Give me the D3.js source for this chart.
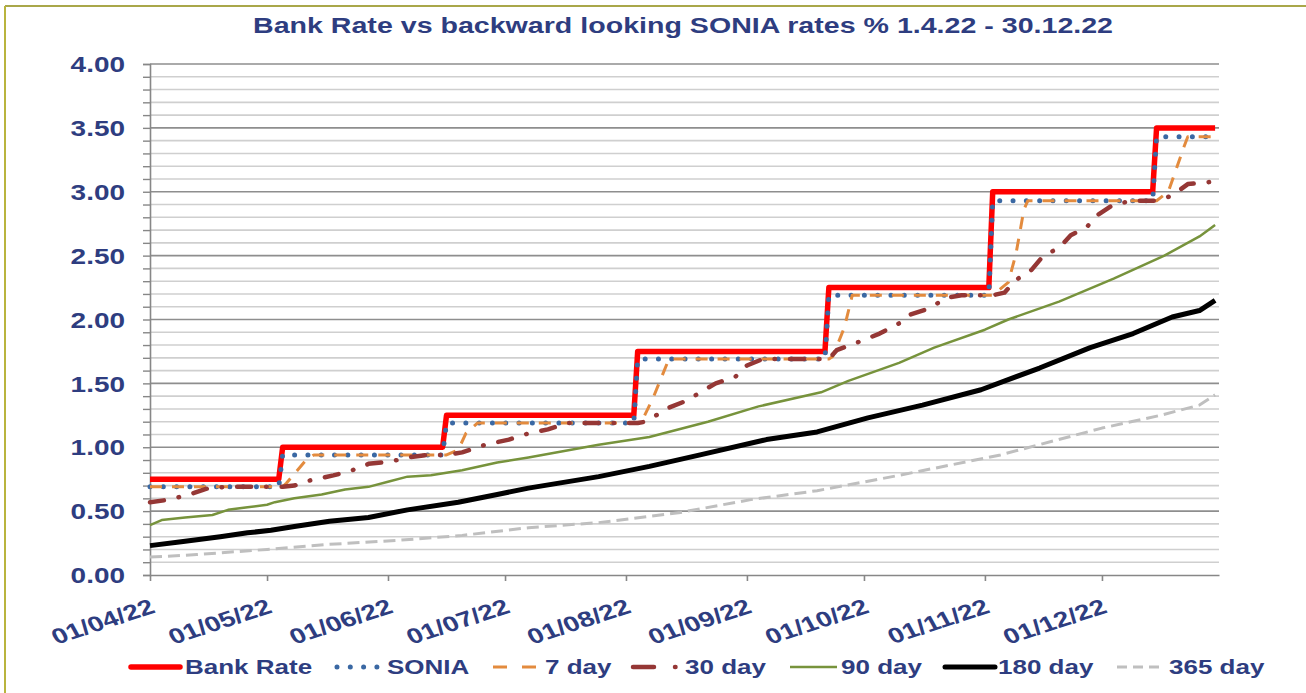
<!DOCTYPE html>
<html><head><meta charset="utf-8">
<script src="https://cdn.jsdelivr.net/npm/d3@7"></script>
<style>
body{margin:0;background:#fff}
svg{display:block}
text{font-family:"Liberation Sans",Arial,sans-serif;font-weight:bold;fill:#2E3D80}
</style>
</head><body>
<svg id="chart" width="1306" height="693"></svg>
<script>
// ---------- DATA ----------
const chartTitle = "Bank Rate vs backward looking SONIA rates % 1.4.22 - 30.12.22";
const xTickDates = ["2022-04-01","2022-05-01","2022-06-01","2022-07-01","2022-08-01","2022-09-01","2022-10-01","2022-11-01","2022-12-01"];
const yMajorTicks = [0,0.5,1,1.5,2,2.5,3,3.5,4];
const seriesNames = ["Bank Rate","SONIA","7 day","30 day","90 day","180 day","365 day"];

const bankRate = [["2022-04-01",0.75],["2022-05-04",0.75],["2022-05-05",1.00],["2022-06-15",1.00],["2022-06-16",1.25],["2022-08-03",1.25],["2022-08-04",1.75],["2022-09-21",1.75],["2022-09-22",2.25],["2022-11-02",2.25],["2022-11-03",3.00],["2022-12-14",3.00],["2022-12-15",3.50],["2022-12-30",3.50]];

const sonia = [["2022-04-01",0.69],["2022-05-04",0.69],["2022-05-05",0.94],["2022-06-15",0.94],["2022-06-16",1.19],["2022-08-03",1.19],["2022-08-04",1.69],["2022-09-21",1.69],["2022-09-22",2.19],["2022-11-02",2.19],["2022-11-03",2.93],["2022-12-14",2.93],["2022-12-15",3.43],["2022-12-30",3.43]];

const sevenDay = [["2022-04-01",0.69],["2022-05-05",0.69],["2022-05-06",0.72],["2022-05-11",0.90],["2022-05-13",0.94],["2022-06-16",0.94],["2022-06-19",0.98],["2022-06-21",1.11],["2022-06-24",1.19],["2022-08-04",1.19],["2022-08-05",1.20],["2022-08-08",1.39],["2022-08-12",1.69],["2022-09-22",1.69],["2022-09-23",1.71],["2022-09-26",1.94],["2022-09-28",2.19],["2022-11-03",2.19],["2022-11-07",2.29],["2022-11-09",2.52],["2022-11-11",2.86],["2022-11-12",2.93],["2022-12-15",2.93],["2022-12-18",3.00],["2022-12-22",3.35],["2022-12-23",3.43],["2022-12-30",3.43]];

const thirtyDay = [["2022-04-01",0.57],["2022-04-06",0.59],["2022-04-11",0.63],["2022-04-16",0.68],["2022-04-21",0.69],["2022-05-05",0.69],["2022-05-08",0.70],["2022-05-12",0.74],["2022-05-18",0.78],["2022-05-22",0.81],["2022-05-27",0.87],["2022-06-02",0.89],["2022-06-06",0.92],["2022-06-11",0.94],["2022-06-16",0.94],["2022-06-20",0.96],["2022-06-26",1.02],["2022-07-02",1.06],["2022-07-06",1.10],["2022-07-12",1.14],["2022-07-17",1.19],["2022-08-04",1.19],["2022-08-06",1.20],["2022-08-12",1.31],["2022-08-17",1.37],["2022-08-20",1.43],["2022-08-24",1.50],["2022-08-29",1.55],["2022-09-01",1.64],["2022-09-05",1.69],["2022-09-22",1.69],["2022-09-24",1.76],["2022-10-01",1.84],["2022-10-05",1.89],["2022-10-10",1.97],["2022-10-13",2.04],["2022-10-18",2.09],["2022-10-22",2.17],["2022-10-26",2.19],["2022-11-03",2.19],["2022-11-06",2.21],["2022-11-09",2.31],["2022-11-13",2.39],["2022-11-16",2.50],["2022-11-20",2.56],["2022-11-23",2.66],["2022-11-27",2.72],["2022-11-30",2.82],["2022-12-04",2.90],["2022-12-09",2.93],["2022-12-15",2.93],["2022-12-19",2.97],["2022-12-23",3.06],["2022-12-30",3.08]];

const ninetyDay = [["2022-04-01",0.39],["2022-04-04",0.43],["2022-04-10",0.45],["2022-04-17",0.47],["2022-04-21",0.51],["2022-04-26",0.53],["2022-05-01",0.55],["2022-05-03",0.57],["2022-05-08",0.60],["2022-05-15",0.63],["2022-05-21",0.67],["2022-05-27",0.69],["2022-06-01",0.73],["2022-06-06",0.77],["2022-06-12",0.78],["2022-06-20",0.82],["2022-06-29",0.88],["2022-07-07",0.92],["2022-07-25",1.02],["2022-08-07",1.08],["2022-08-22",1.20],["2022-09-04",1.32],["2022-09-20",1.43],["2022-09-27",1.52],["2022-10-10",1.66],["2022-10-19",1.78],["2022-11-01",1.92],["2022-11-07",2.00],["2022-11-20",2.14],["2022-12-04",2.32],["2022-12-17",2.50],["2022-12-26",2.65],["2022-12-30",2.74]];

const oneEightyDay = [["2022-04-01",0.23],["2022-04-09",0.26],["2022-04-19",0.30],["2022-04-26",0.33],["2022-05-02",0.35],["2022-05-08",0.38],["2022-05-17",0.42],["2022-05-27",0.45],["2022-06-06",0.51],["2022-06-19",0.57],["2022-06-29",0.63],["2022-07-07",0.68],["2022-07-25",0.77],["2022-08-07",0.85],["2022-08-20",0.94],["2022-09-06",1.06],["2022-09-19",1.12],["2022-10-02",1.23],["2022-10-16",1.33],["2022-10-31",1.45],["2022-11-15",1.62],["2022-11-28",1.78],["2022-12-09",1.89],["2022-12-19",2.02],["2022-12-26",2.07],["2022-12-30",2.15]];

const threeSixtyFiveDay = [["2022-04-01",0.14],["2022-04-13",0.16],["2022-05-01",0.20],["2022-05-17",0.24],["2022-06-03",0.27],["2022-06-20",0.31],["2022-07-07",0.37],["2022-07-25",0.41],["2022-08-15",0.49],["2022-09-02",0.59],["2022-09-19",0.66],["2022-10-10",0.78],["2022-11-05",0.94],["2022-12-01",1.15],["2022-12-16",1.25],["2022-12-26",1.33],["2022-12-30",1.41]];

// ---------- STYLES / LAYOUT ----------
const SX = 1.3; // horizontal text stretch of the original picture
const styles = [
  {color:"#FF0000", width:5.5, dash:null, cap:"butt"},
  {color:"#3A68A3", width:5, dash:"0,13.3", cap:"round"},
  {color:"#E38B3E", width:3, dash:"12,10", cap:"butt"},
  {color:"#953735", width:4.5, dash:"14,15,0.5,15", cap:"round"},
  {color:"#77933C", width:2.5, dash:null, cap:"butt"},
  {color:"#000000", width:5, dash:null, cap:"butt"},
  {color:"#BFBFBF", width:3, dash:"12,6", cap:"butt"}
];
const allSeries = [bankRate, sonia, sevenDay, thirtyDay, ninetyDay, oneEightyDay, threeSixtyFiveDay];
const legendLayout = [
  {x1:131,x2:180,tx:185},
  {x1:337,x2:381,tx:387},
  {x1:493,x2:537,tx:545},
  {x1:633,x2:679,tx:685},
  {x1:790,x2:837,tx:841},
  {x1:945,x2:995,tx:998},
  {x1:1117,x2:1161,tx:1169}
];

const parse = d3.utcParse("%Y-%m-%d");
const svg = d3.select("#chart");

// frame
svg.append("line").attr("x1",5).attr("y1",6).attr("x2",1306).attr("y2",6).attr("stroke","#A9A74A").attr("stroke-width",2);
svg.append("line").attr("x1",5).attr("y1",6).attr("x2",5).attr("y2",693).attr("stroke","#B9B43E").attr("stroke-width",2);

const x = d3.scaleUtc().domain([parse("2022-04-01"), parse("2022-12-31")]).range([150, 1219]);
const y = d3.scaleLinear().domain([0, 4]).range([575, 64]);

// title
svg.append("text").attr("text-anchor","middle").attr("font-size",22)
  .attr("transform",`translate(683,33) scale(${SX},1)`).text(chartTitle);

// gridlines
const minorTicks = y.ticks(40);
const isMajor = v => yMajorTicks.some(m => Math.abs(m - v) < 1e-6);
svg.append("g").selectAll("line").data(minorTicks.filter(v => v > 0)).join("line")
  .attr("x1",150).attr("x2",1219)
  .attr("y1",d=>y(d)).attr("y2",d=>y(d))
  .attr("stroke",d=> isMajor(d) ? "#8E8E8E" : "#CFCFCF")
  .attr("stroke-width",1.6);

// y axis
const yAxis = svg.append("g").attr("transform","translate(150,0)")
  .call(d3.axisLeft(y).tickValues(minorTicks).tickSize(7).tickPadding(0)
    .tickFormat(d => isMajor(d) ? d.toFixed(2) : ""));
yAxis.select(".domain").attr("stroke","#878787").attr("stroke-width",1.6);
yAxis.selectAll(".tick line").attr("stroke","#878787").attr("stroke-width",1.4);
yAxis.selectAll(".tick text").attr("x",null).attr("dy",null)
  .attr("font-size",21.5).attr("fill","#2E3D80").attr("font-family",null)
  .attr("transform",`translate(-25,7.7) scale(${SX},1)`);

// x axis
const xAxis = svg.append("g").attr("transform","translate(0,575)")
  .call(d3.axisBottom(x).tickValues(xTickDates.map(parse)).tickSize(6).tickSizeOuter(0)
    .tickFormat(d3.utcFormat("%d/%m/%y")));
xAxis.select(".domain").attr("stroke","#878787").attr("stroke-width",1.6);
xAxis.selectAll(".tick line").attr("stroke","#878787").attr("stroke-width",1.6);
xAxis.selectAll(".tick text").attr("x",null).attr("y",null).attr("dy",null)
  .attr("text-anchor","end").attr("font-size",21.5).attr("fill","#2E3D80").attr("font-family",null)
  .attr("transform",`translate(6,37) scale(${SX},1) rotate(-23)`);

// series
const line = d3.line().x(d => x(parse(d[0]))).y(d => y(d[1]));
const gSeries = svg.append("g");
allSeries.forEach((s, i) => {
  const st = styles[i];
  gSeries.append("path").datum(s).attr("d", line)
    .attr("fill","none").attr("stroke",st.color).attr("stroke-width",st.width)
    .attr("stroke-dasharray",st.dash).attr("stroke-linecap",st.cap)
    .attr("stroke-linejoin","round");
});

// legend
const legY = 667;
const gLeg = svg.append("g");
seriesNames.forEach((name, i) => {
  const st = styles[i], L = legendLayout[i];
  gLeg.append("line").attr("x1",L.x1).attr("x2",L.x2).attr("y1",legY).attr("y2",legY)
    .attr("stroke",st.color).attr("stroke-width",st.width)
    .attr("stroke-dasharray", i===3 ? "21,21,0.5,10" : (i===2 ? "14,15" : (i===6 ? "10,6" : st.dash)))
    .attr("stroke-linecap", st.cap === "round" ? "round" : (i===0||i===5 ? "round" : "butt"));
  gLeg.append("text").attr("font-size",20)
    .attr("transform",`translate(${L.tx},${legY+7}) scale(${SX},1)`).text(name);
});
</script>
</body></html>
